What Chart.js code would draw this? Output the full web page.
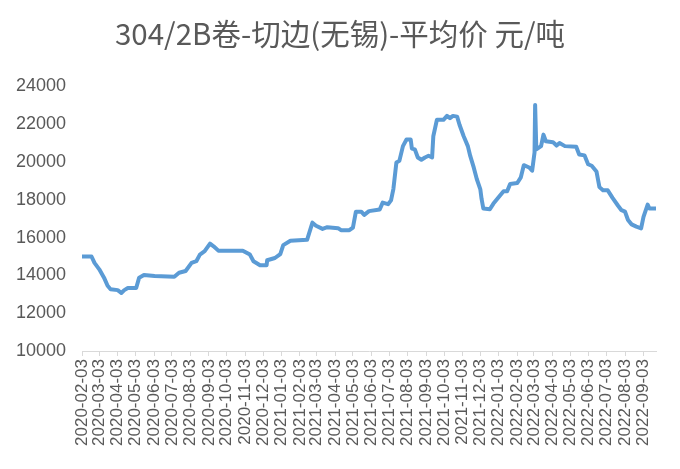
<!DOCTYPE html>
<html>
<head>
<meta charset="utf-8">
<script src="https://cdn.jsdelivr.net/npm/chart.js@4/dist/chart.umd.min.js"></script>
<style>
html,body{margin:0;padding:0;background:#fff;}
#wrap{width:680px;height:469px;}
</style>
</head>
<body>
<div id="wrap"><canvas id="priceChart" width="680" height="469"></canvas></div>
<script>
const chartTitle="304/2B卷-切边(无锡)-平均价 元/吨";

// price points (date, 元/吨)
const dates=[
"2020-02-03","2020-02-19","2020-02-24","2020-03-03","2020-03-11","2020-03-17","2020-03-22","2020-04-03",
"2020-04-09","2020-04-14","2020-04-20","2020-05-04","2020-05-09","2020-05-17","2020-06-04","2020-07-07",
"2020-07-15","2020-07-26","2020-08-05","2020-08-13","2020-08-19","2020-08-27","2020-09-05","2020-09-11",
"2020-09-19","2020-10-30","2020-11-11","2020-11-17","2020-11-28","2020-12-09","2020-12-10","2020-12-23",
"2021-01-01","2021-01-06","2021-01-18","2021-02-15","2021-02-24","2021-03-02","2021-03-13","2021-03-21",
"2021-04-08","2021-04-13","2021-04-27","2021-05-03","2021-05-08","2021-05-17","2021-05-22","2021-05-30",
"2021-06-17","2021-06-22","2021-07-01","2021-07-06","2021-07-10","2021-07-15","2021-07-20","2021-07-26",
"2021-08-01","2021-08-08","2021-08-10","2021-08-15","2021-08-20","2021-08-26","2021-09-01","2021-09-07",
"2021-09-13","2021-09-15","2021-09-21","2021-10-02","2021-10-08","2021-10-13","2021-10-18","2021-10-25",
"2021-10-29","2021-11-05","2021-11-12","2021-11-16","2021-11-22","2021-11-27","2021-12-03","2021-12-05",
"2021-12-08","2021-12-19","2021-12-25","2022-01-03","2022-01-11","2022-01-17","2022-01-22","2022-02-03",
"2022-02-09","2022-02-14","2022-02-23","2022-02-28","2022-03-04","2022-03-05","2022-03-07","2022-03-15",
"2022-03-19","2022-03-23","2022-04-04","2022-04-10","2022-04-15","2022-04-24","2022-05-13","2022-05-18",
"2022-05-27","2022-06-02","2022-06-08","2022-06-16","2022-06-21","2022-06-27","2022-07-05","2022-07-13",
"2022-07-22","2022-07-28","2022-08-03","2022-08-08","2022-08-14","2022-08-22","2022-08-30","2022-09-03",
"2022-09-10","2022-09-13","2022-09-24"
];
const prices=[
15000,15000,14660,14320,13880,13450,13270,13220,
13070,13220,13330,13330,13880,14020,13970,13930,
14140,14230,14660,14750,15100,15280,15680,15540,
15310,15310,15100,14750,14540,14540,14800,14920,
15130,15600,15830,15880,16790,16630,16460,16550,
16500,16390,16390,16530,17370,17370,17200,17400,
17490,17850,17770,17970,18580,19970,20060,20840,
21190,21190,20710,20670,20240,20120,20240,20330,
20240,21360,22230,22230,22440,22320,22440,22400,
21970,21360,20840,20320,19700,19100,18550,18060,
17540,17500,17800,18150,18450,18450,18840,18890,
19190,19830,19710,19540,20500,23020,20670,20840,
21450,21100,21050,20870,21000,20840,20810,20400,
20350,19880,19800,19500,18670,18500,18500,18100,
17700,17450,17370,16930,16700,16580,16490,17100,
17750,17540,17540
];

const tickLabels=[
"2020-02-03","2020-03-03","2020-04-03","2020-05-03","2020-06-03","2020-07-03","2020-08-03","2020-09-03",
"2020-10-03","2020-11-03","2020-12-03","2021-01-03","2021-02-03","2021-03-03","2021-04-03","2021-05-03",
"2021-06-03","2021-07-03","2021-08-03","2021-09-03","2021-10-03","2021-11-03","2021-12-03","2022-01-03",
"2022-02-03","2022-03-03","2022-04-03","2022-05-03","2022-06-03","2022-07-03","2022-08-03","2022-09-03"
];
const yTicks=[10000,12000,14000,16000,18000,20000,22000,24000];

const startMs=Date.parse(dates[0]);
function dayOf(s){
    return Math.round((Date.parse(s)-startMs)/86400000);
}

const points=dates.map((d,i)=>({x:dayOf(d),y:prices[i]}));
const tickNames={};
tickLabels.forEach(t=>{tickNames[dayOf(t)]=t;});

const ctx=document.getElementById("priceChart").getContext("2d");
new Chart(ctx,{
    type:'line',
    data:{
        datasets:[{
            label:'平均价',
            data:points,
            borderColor:'#5B9BD5',
            borderWidth:4,
            pointRadius:0,
            tension:0,
            borderJoinStyle:'round',
            borderCapStyle:'round'
        }]
    },
    options:{
        responsive:false,
        animation:false,
        // equal side padding keeps the title centred on the canvas
        layout:{padding:{left:10,right:10,top:0,bottom:0}},
        plugins:{
            legend:{display:false},
            tooltip:{enabled:false},
            title:{
                display:true,
                text:chartTitle,
                color:'#595959',
                font:{family:"'Noto Sans CJK SC','Noto Sans',sans-serif",size:29.5,weight:'normal'},
                padding:{top:16,bottom:35}
            }
        },
        scales:{
            x:{
                type:'linear',
                min:0,
                max:dayOf(dates[dates.length-1]),
                afterBuildTicks:function(scale){
                    scale.ticks=tickLabels.map(t=>({value:dayOf(t)}));
                },
                afterFit:function(scale){ scale.height=118; },
                grid:{display:true,drawOnChartArea:false,drawTicks:true,tickLength:5,color:'#d9d9d9'},
                border:{display:true,color:'#d9d9d9',width:1},
                ticks:{
                    autoSkip:false,
                    minRotation:90,
                    maxRotation:90,
                    padding:3,
                    color:'#595959',
                    font:{family:"'Liberation Sans',Arial,sans-serif",size:17},
                    callback:function(v){ return tickNames[v]||''; }
                }
            },
            y:{
                min:10000,
                max:24000,
                afterBuildTicks:function(scale){
                    scale.ticks=yTicks.map(v=>({value:v}));
                },
                afterFit:function(scale){ scale.width=72; },
                grid:{display:false,drawTicks:false},
                border:{display:false},
                ticks:{
                    padding:16,
                    color:'#595959',
                    font:{family:"'Liberation Sans',Arial,sans-serif",size:18},
                    callback:function(v){ return String(v); }
                }
            },
            // empty spacer on the right so the plot ends where the reference does
            yRight:{
                position:'right',
                min:10000,
                max:24000,
                afterFit:function(scale){ scale.width=14; },
                grid:{display:false,drawTicks:false},
                border:{display:false},
                ticks:{display:false}
            }
        }
    }
});
</script>
</body>
</html>
